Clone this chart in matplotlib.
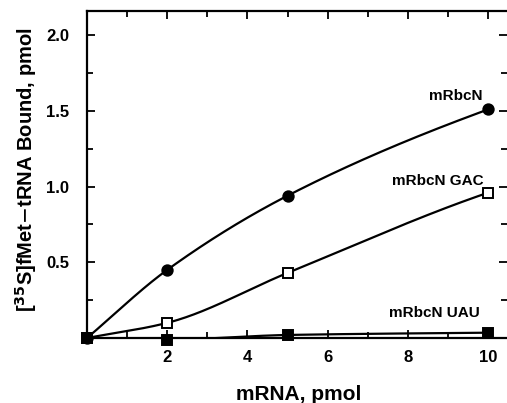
import numpy as np
import matplotlib
matplotlib.use("Agg")
import matplotlib.pyplot as plt
from matplotlib.ticker import MultipleLocator

plt.rcParams['font.family'] = ['Liberation Sans', 'DejaVu Sans']

mrna = [0, 2, 5, 10]
wt = [0.0, 0.45, 0.94, 1.51]
gac = [0.0, 0.10, 0.43, 0.96]
uau = [0.0, -0.01, 0.02, 0.035]
labels = ["mRbcN", "mRbcN GAC", "mRbcN UAU"]
xticks = [2, 4, 6, 8, 10]
yticks = [0.5, 1.0, 1.5, 2.0]

fig = plt.figure(figsize=(5.07, 4.03), dpi=100)
ax = fig.add_axes([0.1716, 0.1613, 0.8284, 0.8114])


def pchip(x, y, n=200):
    x = np.asarray(x, float)
    y = np.asarray(y, float)
    h = np.diff(x)
    d = np.diff(y) / h
    m = np.zeros_like(y)
    for k in range(1, len(x) - 1):
        if d[k - 1] * d[k] > 0:
            w1 = 2 * h[k] + h[k - 1]
            w2 = h[k] + 2 * h[k - 1]
            m[k] = (w1 + w2) / (w1 / d[k - 1] + w2 / d[k])
    m[0] = d[0]
    m[-1] = d[-1] * 0.85
    xs = np.linspace(x[0], x[-1], n)
    ys = np.empty_like(xs)
    for i, xv in enumerate(xs):
        k = min(np.searchsorted(x, xv, side='right') - 1, len(x) - 2)
        t = (xv - x[k]) / h[k]
        h00 = 2 * t**3 - 3 * t**2 + 1
        h10 = t**3 - 2 * t**2 + t
        h01 = -2 * t**3 + 3 * t**2
        h11 = t**3 - t**2
        ys[i] = h00 * y[k] + h10 * h[k] * m[k] + h01 * y[k + 1] + h11 * h[k] * m[k + 1]
    return xs, ys


for y, mk, fc in [(wt, 'o', 'black'), (gac, 's', 'white'), (uau, 's', 'black')]:
    xs, ys = pchip(mrna, y)
    ax.plot(xs, ys, color='black', lw=1.6, zorder=2)
    ax.plot(mrna, y, ls='none', marker=mk, ms=7.5 if mk == 'o' else 7,
            mfc=fc, mec='black', mew=1.4, zorder=3, clip_on=False)

fs_ann = 11
ax.text(9.85, 1.55, labels[0], ha='right', va='bottom', fontsize=fs_ann, fontweight='bold')
ax.text(9.88, 0.99, labels[1], ha='right', va='bottom', fontsize=fs_ann, fontweight='bold')
ax.text(9.8, 0.12, labels[2], ha='right', va='bottom', fontsize=fs_ann, fontweight='bold')

ax.set_xlim(0, 10.47)
ax.set_ylim(0, 2.16)
ax.set_xticks(xticks)
ax.set_xticklabels([str(t) for t in xticks])
ax.set_yticks(yticks)
ax.set_yticklabels([f"{t:.1f}" for t in yticks])
ax.xaxis.set_minor_locator(MultipleLocator(1))
ax.yaxis.set_minor_locator(MultipleLocator(0.25))
ax.tick_params(which='both', direction='in', top=True, right=True, width=1.3,
               labelsize=12)
ax.tick_params(which='major', length=6)
ax.tick_params(axis='x', which='major', pad=9)
ax.tick_params(axis='y', which='major', pad=13)
ax.tick_params(which='minor', length=4)
for lab in ax.get_xticklabels() + ax.get_yticklabels():
    lab.set_fontweight('bold')
for s in ['left', 'bottom', 'top']:
    ax.spines[s].set_linewidth(1.6)
ax.spines['right'].set_visible(False)

fig.text(0.59, 1 - 394 / 403, "mRNA, pmol", fontsize=15, fontweight='bold',
         ha='center', va='center')
fig.text(0.052, 1 - 170 / 403, r"[$^{\mathbf{35}}$S]fMet$-$tRNA Bound, pmol",
         fontsize=14.5, fontweight='bold', rotation=90, ha='center', va='center')

fig.savefig("out.png", dpi=100)
